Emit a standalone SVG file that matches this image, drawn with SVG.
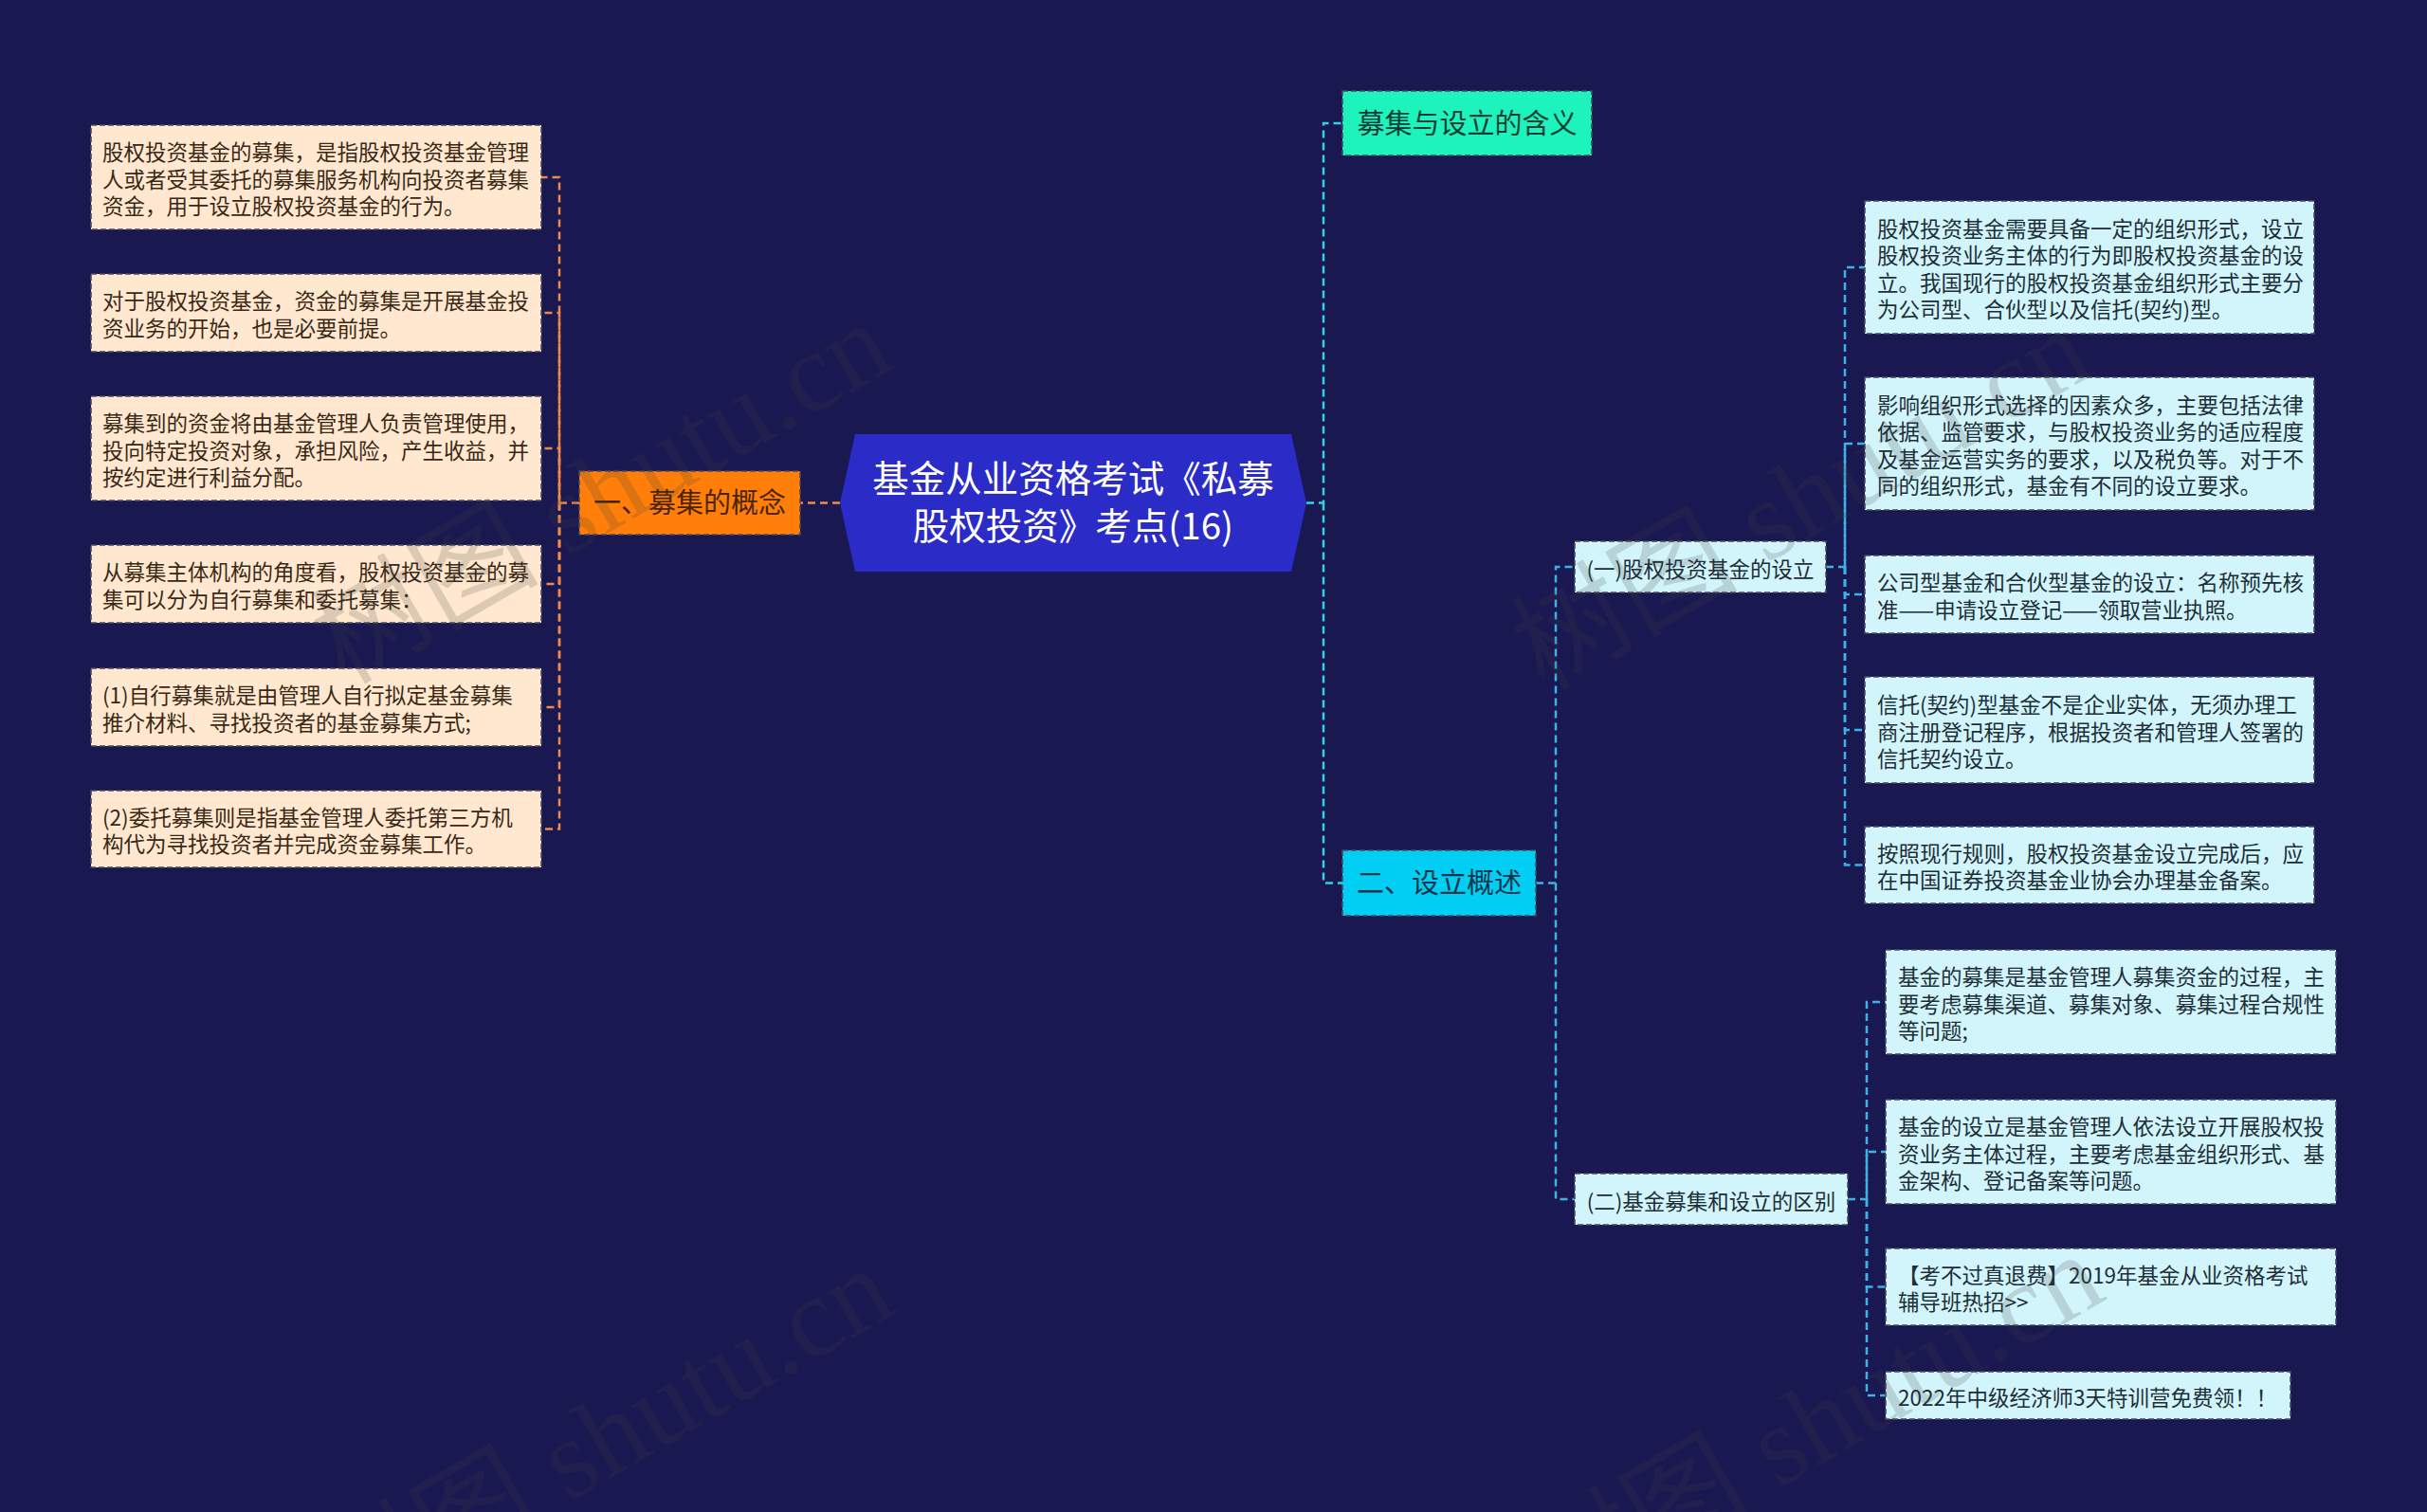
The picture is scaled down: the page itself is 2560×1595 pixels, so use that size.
<svg xmlns="http://www.w3.org/2000/svg" width="2560" height="1595" viewBox="0 0 2560 1595">
<style>
.bg{fill:#1a1851}
.cn{fill:none;stroke-width:2.5;stroke-dasharray:8 5}
.or{stroke:#f0894a}
.cy{stroke:#2fd3e6}
.bl{stroke:#3cb2e6}
.box{stroke:#4a4a5c;stroke-width:1.6;stroke-dasharray:6 3}
.peach{fill:#ffe8cf}
.ice{fill:#d2f5fb}
.t{font-family:"Noto Sans CJK SC","Noto Sans",sans-serif}
.s{font-size:22.5px}
.pt{fill:#3a2816}
.it{fill:#1d2e38}
.wm{font-family:"Liberation Serif","Noto Sans CJK SC",serif;font-size:120px;fill:#404040;opacity:0.18}
</style>
<rect class="bg" x="0" y="0" width="2560" height="1595"/>
<g id="connectors">
<path class="cn or" d="M886,530.5 H844"/>
<path class="cn or" d="M611,530.5 H590 V187 H571"/>
<path class="cn or" d="M590,530.5 V330 H571"/>
<path class="cn or" d="M590,530.5 V473 H571"/>
<path class="cn or" d="M590,530.5 V616 H571"/>
<path class="cn or" d="M590,530.5 V746 H571"/>
<path class="cn or" d="M590,530.5 V874.5 H571"/>
<path class="cn cy" d="M1378,530.5 H1396 V130 H1416"/>
<path class="cn cy" d="M1396,530.5 V931.5 H1416"/>
<path class="cn bl" d="M1620,931.5 H1641 V598 H1661"/>
<path class="cn bl" d="M1641,931.5 V1265 H1661"/>
<path class="cn bl" d="M1926,598 H1946 V282 H1967"/>
<path class="cn bl" d="M1946,598 V468 H1967"/>
<path class="cn bl" d="M1946,598 V627 H1967"/>
<path class="cn bl" d="M1946,598 V770 H1967"/>
<path class="cn bl" d="M1946,598 V912.5 H1967"/>
<path class="cn bl" d="M1949,1265 H1969 V1057 H1989"/>
<path class="cn bl" d="M1969,1265 V1215 H1989"/>
<path class="cn bl" d="M1969,1265 V1357.5 H1989"/>
<path class="cn bl" d="M1969,1265 V1472 H1989"/>
</g>
<g id="root">
<polygon points="886,530.5 902,458 1362,458 1378,530.5 1362,603 902,603" fill="#2b2bc8"/>
<text class="t" x="1132" y="519" font-size="38.5" fill="#ffffff" text-anchor="middle">基金从业资格考试《私募</text>
<text class="t" x="1132" y="569" font-size="38.5" fill="#ffffff" text-anchor="middle">股权投资》考点(16)</text>
</g>
<g id="n-mujigainian">
<rect class="box" x="611" y="497" width="233" height="67" fill="#ff7f0a"/>
<text class="t" x="727.5" y="541" font-size="29" fill="#4a2400" text-anchor="middle">一、募集的概念</text>
</g>
<g id="n-hanyi">
<rect class="box" x="1416" y="96" width="263" height="68" fill="#1ef2bd"/>
<text class="t" x="1547.5" y="141" font-size="29" fill="#0c3e33" text-anchor="middle">募集与设立的含义</text>
</g>
<g id="n-sheligaishu">
<rect class="box" x="1416" y="897" width="204" height="69" fill="#02cdf2"/>
<text class="t" x="1518" y="942" font-size="29" fill="#0b354a" text-anchor="middle">二、设立概述</text>
</g>
<g id="n-sub1">
<rect class="box ice" x="1661" y="571" width="265" height="54"/>
<text class="t s it" x="1793.5" y="608.5" text-anchor="middle">(一)股权投资基金的设立</text>
</g>
<g id="n-sub2">
<rect class="box ice" x="1661" y="1238" width="288" height="54"/>
<text class="t s it" x="1805" y="1275.5" text-anchor="middle">(二)基金募集和设立的区别</text>
</g>
<g id="b1">
<rect class="box peach" x="96" y="132" width="475" height="110"/>
<text class="t s pt" x="108" y="169">股权投资基金的募集，是指股权投资基金管理</text>
<text class="t s pt" x="108" y="197.5">人或者受其委托的募集服务机构向投资者募集</text>
<text class="t s pt" x="108" y="226">资金，用于设立股权投资基金的行为。</text>
</g>
<g id="b2">
<rect class="box peach" x="96" y="289" width="475" height="82"/>
<text class="t s pt" x="108" y="326.25">对于股权投资基金，资金的募集是开展基金投</text>
<text class="t s pt" x="108" y="354.75">资业务的开始，也是必要前提。</text>
</g>
<g id="b3">
<rect class="box peach" x="96" y="418" width="475" height="110"/>
<text class="t s pt" x="108" y="455">募集到的资金将由基金管理人负责管理使用，</text>
<text class="t s pt" x="108" y="483.5">投向特定投资对象，承担风险，产生收益，并</text>
<text class="t s pt" x="108" y="512">按约定进行利益分配。</text>
</g>
<g id="b4">
<rect class="box peach" x="96" y="575" width="475" height="82"/>
<text class="t s pt" x="108" y="612.25">从募集主体机构的角度看，股权投资基金的募</text>
<text class="t s pt" x="108" y="640.75">集可以分为自行募集和委托募集：</text>
</g>
<g id="b5">
<rect class="box peach" x="96" y="705" width="475" height="82"/>
<text class="t s pt" x="108" y="742.25">(1)自行募集就是由管理人自行拟定基金募集</text>
<text class="t s pt" x="108" y="770.75">推介材料、寻找投资者的基金募集方式;</text>
</g>
<g id="b6">
<rect class="box peach" x="96" y="834" width="475" height="81"/>
<text class="t s pt" x="108" y="870.75">(2)委托募集则是指基金管理人委托第三方机</text>
<text class="t s pt" x="108" y="899.25">构代为寻找投资者并完成资金募集工作。</text>
</g>
<g id="c1">
<rect class="box ice" x="1967" y="212" width="474" height="140"/>
<text class="t s it" x="1980" y="249.75">股权投资基金需要具备一定的组织形式，设立</text>
<text class="t s it" x="1980" y="278.25">股权投资业务主体的行为即股权投资基金的设</text>
<text class="t s it" x="1980" y="306.75">立。我国现行的股权投资基金组织形式主要分</text>
<text class="t s it" x="1980" y="335.25">为公司型、合伙型以及信托(契约)型。</text>
</g>
<g id="c2">
<rect class="box ice" x="1967" y="398" width="474" height="140"/>
<text class="t s it" x="1980" y="435.75">影响组织形式选择的因素众多，主要包括法律</text>
<text class="t s it" x="1980" y="464.25">依据、监管要求，与股权投资业务的适应程度</text>
<text class="t s it" x="1980" y="492.75">及基金运营实务的要求，以及税负等。对于不</text>
<text class="t s it" x="1980" y="521.25">同的组织形式，基金有不同的设立要求。</text>
</g>
<g id="c3">
<rect class="box ice" x="1967" y="586" width="474" height="82"/>
<text class="t s it" x="1980" y="623.25">公司型基金和合伙型基金的设立：名称预先核</text>
<text class="t s it" x="1980" y="651.75">准——申请设立登记——领取营业执照。</text>
</g>
<g id="c4">
<rect class="box ice" x="1967" y="714" width="474" height="112"/>
<text class="t s it" x="1980" y="752">信托(契约)型基金不是企业实体，无须办理工</text>
<text class="t s it" x="1980" y="780.5">商注册登记程序，根据投资者和管理人签署的</text>
<text class="t s it" x="1980" y="809">信托契约设立。</text>
</g>
<g id="c5">
<rect class="box ice" x="1967" y="872" width="474" height="81"/>
<text class="t s it" x="1980" y="908.75">按照现行规则，股权投资基金设立完成后，应</text>
<text class="t s it" x="1980" y="937.25">在中国证券投资基金业协会办理基金备案。</text>
</g>
<g id="d1">
<rect class="box ice" x="1989" y="1002" width="475" height="110"/>
<text class="t s it" x="2002" y="1039">基金的募集是基金管理人募集资金的过程，主</text>
<text class="t s it" x="2002" y="1067.5">要考虑募集渠道、募集对象、募集过程合规性</text>
<text class="t s it" x="2002" y="1096">等问题;</text>
</g>
<g id="d2">
<rect class="box ice" x="1989" y="1160" width="475" height="110"/>
<text class="t s it" x="2002" y="1197">基金的设立是基金管理人依法设立开展股权投</text>
<text class="t s it" x="2002" y="1225.5">资业务主体过程，主要考虑基金组织形式、基</text>
<text class="t s it" x="2002" y="1254">金架构、登记备案等问题。</text>
</g>
<g id="d3">
<rect class="box ice" x="1989" y="1317" width="475" height="81"/>
<text class="t s it" x="2002" y="1353.75">【考不过真退费】2019年基金从业资格考试</text>
<text class="t s it" x="2002" y="1382.25">辅导班热招&gt;&gt;</text>
</g>
<g id="d4">
<rect class="box ice" x="1989" y="1447" width="427" height="50"/>
<text class="t s it" x="2002" y="1482.5">2022年中级经济师3天特训营免费领！！</text>
</g>
<g id="watermarks">
<text class="wm" text-anchor="middle" transform="translate(635,520) rotate(-30)" y="40">树图 shutu.cn</text>
<text class="wm" text-anchor="middle" transform="translate(1900,527) rotate(-30)" y="40">树图 shutu.cn</text>
<text class="wm" text-anchor="middle" transform="translate(637,1517) rotate(-30)" y="40">树图 shutu.cn</text>
<text class="wm" text-anchor="middle" transform="translate(1913,1503) rotate(-30)" y="40">树图 shutu.cn</text>
</g>
</svg>
